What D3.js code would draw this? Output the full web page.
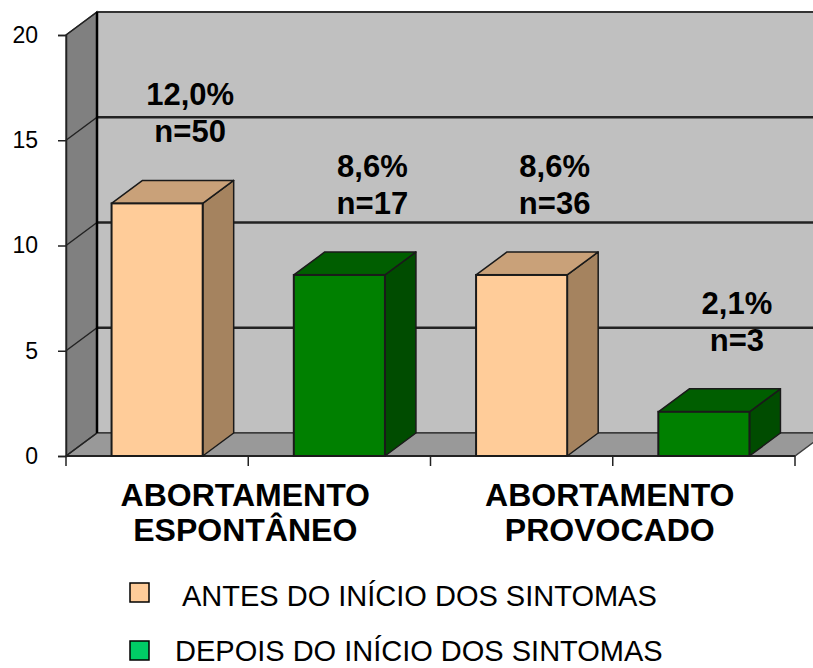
<!DOCTYPE html>
<html>
<head>
<meta charset="utf-8">
<script src="https://cdn.jsdelivr.net/npm/d3@7"></script>
<style>
  html, body { margin: 0; padding: 0; background: #fff; }
  svg { display: block; }
  text { font-family: Arial, "Liberation Sans", sans-serif; }
</style>
</head>
<body>
<svg id="chart" width="813" height="668"></svg>
<script>
// ---- data ----
const categories = [["ABORTAMENTO", "ESPONTÂNEO"], ["ABORTAMENTO", "PROVOCADO"]];
const seriesNames = ["ANTES DO INÍCIO DOS SINTOMAS", "DEPOIS DO INÍCIO DOS SINTOMAS"];
const antesValues = [12.0, 8.6];
const depoisValues = [8.6, 2.1];
const antesN = [50, 36];
const depoisN = [17, 3];
const yTicks = [0, 5, 10, 15, 20];

// ---- styles ----
const colors = [
  { front: "#FFCC99", top: "#C9A179", side: "#A5835F", legend: "#FFCC99" },
  { front: "#008000", top: "#005E00", side: "#004C00", legend: "#00CC66" }
];
const depthX = 31, depthY = -23;

const svg = d3.select("#chart");
const y = d3.scaleLinear().domain([0, 20]).range([456, 35]);
const x0 = d3.scaleBand().domain(d3.range(categories.length)).range([66, 795]).padding(0);
const x1 = d3.scaleBand().domain(d3.range(seriesNames.length)).range([0, x0.bandwidth()])
  .paddingInner(0.5).paddingOuter(0.25);

const xL = 66, xR = 795, y0 = y(0), yTop = y(20);

// left wall
svg.append("polygon")
  .attr("points", [[xL, yTop], [xL + depthX, yTop + depthY], [xL + depthX, y0 + depthY], [xL, y0]].join(" "))
  .attr("fill", "#808080").attr("stroke", "#404040").attr("stroke-width", 1.5);
// back wall
svg.append("rect")
  .attr("x", xL + depthX).attr("y", yTop + depthY)
  .attr("width", xR - xL).attr("height", y0 - yTop)
  .attr("fill", "#C0C0C0").attr("stroke", "#333").attr("stroke-width", 2);
// floor
svg.append("polygon")
  .attr("points", [[xL, y0], [xR, y0], [xR + depthX, y0 + depthY], [xL + depthX, y0 + depthY]].join(" "))
  .attr("fill", "#999999").attr("stroke", "#404040").attr("stroke-width", 1.5);

// gridlines on back wall and left wall
yTicks.filter(t => t > 0 && t < 20).forEach(t => {
  svg.append("line")
    .attr("x1", xL + depthX).attr("x2", xR + depthX)
    .attr("y1", y(t) + depthY).attr("y2", y(t) + depthY)
    .attr("stroke", "#222").attr("stroke-width", 2.5);
});
yTicks.forEach(t => {
  svg.append("line")
    .attr("x1", xL).attr("y1", y(t))
    .attr("x2", xL + depthX).attr("y2", y(t) + depthY)
    .attr("stroke", "#222").attr("stroke-width", 1.5);
});
// back wall left edge
svg.append("line")
  .attr("x1", xL + depthX).attr("x2", xL + depthX)
  .attr("y1", yTop + depthY).attr("y2", y0 + depthY)
  .attr("stroke", "#000").attr("stroke-width", 2.5);

// y axis
const yAxis = d3.axisLeft(y).tickValues(yTicks).tickSize(8).tickPadding(20);
const gy = svg.append("g").attr("transform", `translate(${xL},0)`).call(yAxis);
gy.select(".domain").attr("stroke", "#222").attr("stroke-width", 1.5);
gy.selectAll(".tick line").attr("stroke", "#222").attr("stroke-width", 1.5);
gy.selectAll(".tick text").attr("font-size", 23).attr("fill", "#000")
  .style("font-family", "Arial, 'Liberation Sans', sans-serif");

// x axis line + ticks
svg.append("line").attr("x1", xL).attr("x2", xR).attr("y1", y0).attr("y2", y0)
  .attr("stroke", "#222").attr("stroke-width", 2);
const tickXs = [];
categories.forEach((c, i) => {
  tickXs.push(x0(i));
  tickXs.push(x0(i) + x0.bandwidth() / 2);
});
tickXs.push(x0(categories.length - 1) + x0.bandwidth());
tickXs.forEach(tx => {
  svg.append("line").attr("x1", tx).attr("x2", tx).attr("y1", y0).attr("y2", y0 + 10)
    .attr("stroke", "#222").attr("stroke-width", 1.5);
});

// bars
const fmt = d3.formatLocale({ decimal: ",", thousands: ".", grouping: [3], currency: ["", ""] }).format(".1f");
const seriesValues = [antesValues, depoisValues];
const seriesN = [antesN, depoisN];
const bars = [];
categories.forEach((c, ci) => {
  seriesNames.forEach((s, si) => {
    bars.push({ ci, si, v: seriesValues[si][ci], n: seriesN[si][ci] });
  });
});
bars.forEach(b => {
  const bx0 = x0(b.ci) + x1(b.si), bx1 = bx0 + x1.bandwidth();
  const by = y(b.v);
  const col = colors[b.si];
  const g = svg.append("g");
  g.append("polygon")
    .attr("points", [[bx1, by], [bx1 + depthX, by + depthY], [bx1 + depthX, y0 + depthY], [bx1, y0]].join(" "))
    .attr("fill", col.side).attr("stroke", "#1a1a1a").attr("stroke-width", 1.5).attr("stroke-linejoin", "round");
  g.append("polygon")
    .attr("points", [[bx0, by], [bx0 + depthX, by + depthY], [bx1 + depthX, by + depthY], [bx1, by]].join(" "))
    .attr("fill", col.top).attr("stroke", "#1a1a1a").attr("stroke-width", 1.5).attr("stroke-linejoin", "round");
  g.append("rect")
    .attr("x", bx0).attr("y", by).attr("width", bx1 - bx0).attr("height", y0 - by)
    .attr("fill", col.front).attr("stroke", "#1a1a1a").attr("stroke-width", 2);
  const cx = (bx0 + bx1) / 2 + depthX + 2;
  const base2 = by - 61;
  g.append("text").attr("x", cx).attr("y", base2 - 37).attr("text-anchor", "middle")
    .attr("font-size", 31).attr("font-weight", "bold").attr("fill", "#000").text(fmt(b.v) + "%");
  g.append("text").attr("x", cx).attr("y", base2).attr("text-anchor", "middle")
    .attr("font-size", 31).attr("font-weight", "bold").attr("fill", "#000").text("n=" + b.n);
});

// category labels
categories.forEach((c, ci) => {
  const cx = x0(ci) + x0.bandwidth() / 2 - 3;
  c.forEach((line, li) => {
    svg.append("text").attr("x", cx).attr("y", 506 + li * 35).attr("text-anchor", "middle")
      .attr("font-size", 32).attr("font-weight", "bold").attr("fill", "#000").text(line);
  });
});

// legend
seriesNames.forEach((s, si) => {
  const ly = 583 + si * 58;
  svg.append("rect").attr("x", 130).attr("y", ly).attr("width", 19).attr("height", 19)
    .attr("fill", colors[si].legend).attr("stroke", "#000").attr("stroke-width", 1.5);
  svg.append("text").attr("x", si === 0 ? 182 : 175).attr("y", si === 0 ? ly + 23 : ly + 20)
    .attr("font-size", 29).attr("fill", "#000").text(s);
});
</script>
</body>
</html>
